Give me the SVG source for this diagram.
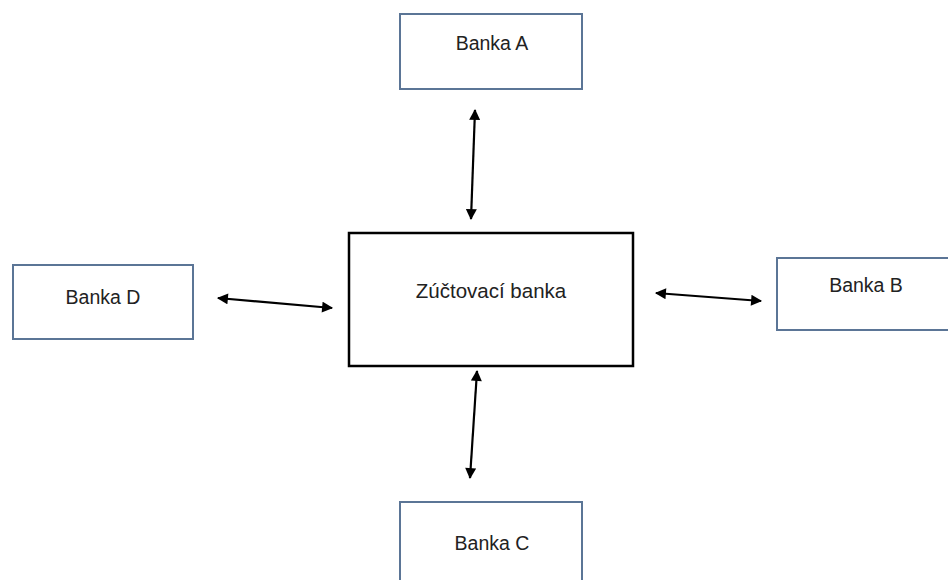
<svg xmlns="http://www.w3.org/2000/svg" width="948" height="580" viewBox="0 0 948 580">
<style>
.bank{fill:#fff;stroke:#5b7596;stroke-width:2}
.center{fill:#fff;stroke:#000;stroke-width:2.5}
.lbl{font-family:"Liberation Sans",Arial,sans-serif;font-size:19.5px;fill:#222;text-anchor:middle}
.big{font-size:20.5px}
.conn{stroke:#000;stroke-width:2.2;fill:none;marker-start:url(#ah);marker-end:url(#ah)}
</style>
<defs>
<marker id="ah" viewBox="0 0 10 10" refX="9" refY="5" markerWidth="5.5" markerHeight="5" orient="auto-start-reverse" markerUnits="strokeWidth">
<path d="M0,0 L10,5 L0,10 Z" fill="#000"/>
</marker>
</defs>
<rect width="948" height="580" fill="#fff"/>
<g id="connectors">
<line class="conn" x1="475" y1="110" x2="471" y2="219"/>
<line class="conn" x1="218" y1="298" x2="332" y2="308"/>
<line class="conn" x1="656" y1="293" x2="761" y2="301"/>
<line class="conn" x1="477" y1="371" x2="470" y2="478"/>
</g>
<g id="banka-a">
<rect class="bank" x="400" y="14" width="182" height="75"/>
<text class="lbl" x="492" y="50">Banka A</text>
</g>
<g id="zuctovaci-banka">
<rect class="center" x="349" y="233" width="284" height="133"/>
<text class="lbl big" x="491" y="298">Zúčtovací banka</text>
</g>
<g id="banka-d">
<rect class="bank" x="13" y="265" width="180" height="74"/>
<text class="lbl" x="103" y="304">Banka D</text>
</g>
<g id="banka-b">
<rect class="bank" x="777" y="258" width="182" height="72"/>
<text class="lbl" x="866" y="292">Banka B</text>
</g>
<g id="banka-c">
<rect class="bank" x="400" y="502" width="182" height="90"/>
<text class="lbl" x="492" y="550">Banka C</text>
</g>
</svg>
